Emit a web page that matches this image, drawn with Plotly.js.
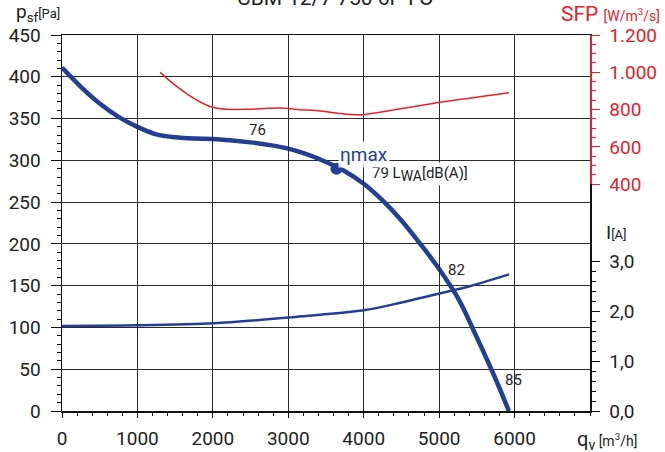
<!DOCTYPE html>
<html>
<head>
<meta charset="utf-8">
<script src="https://cdn.plot.ly/plotly-3.0.1.min.js"></script>
<style>html,body{margin:0;padding:0;background:#fff;}#chart{width:665px;height:452px;}</style>
</head>
<body>
<div id="chart"></div>
<script>
// Pressure curve p_sf [Pa] vs flow q_v [m3/h]
const flow = [0, 250, 500, 750, 1000, 1250, 1500, 1750, 2000, 2500, 3000, 3250, 3500, 3750, 4000, 4250, 4500, 4750, 5000, 5250, 5500, 5750, 5925];
const pressure = [411, 388, 368, 352, 340, 331, 327.5, 326, 325.5, 321.5, 314, 307, 298, 287, 272, 252, 228, 200, 170, 135, 88, 38, 0];
// SFP curve [W/m3/s]
const sfpFlow = [1301, 1478, 1656, 1833, 2010, 2187, 2453, 2718, 2895, 3161, 3426, 3692, 3957, 4489, 5020, 5927];
const sfpValues = [1000, 938, 885, 841, 811, 802, 802, 807, 809, 800, 793, 779, 773, 805, 840, 891];
// Current curve I [A]
const curFlow = [0, 992, 2009, 3028, 4001, 4489, 5020, 5330, 5927];
const curValues = [1.703, 1.717, 1.757, 1.877, 2.018, 2.17, 2.36, 2.47, 2.74];
// Max efficiency point
const etaFlow = [3639];
const etaPressure = [290];
// Tick labels
const xTicks = [0, 1000, 2000, 3000, 4000, 5000, 6000];
const xTickText = ['0', '1000', '2000', '3000', '4000', '5000', '6000'];
const yTicks = [0, 50, 100, 150, 200, 250, 300, 350, 400, 450];
const sfpTicks = [400, 600, 800, 1000, 1200];
const sfpTickText = ['400', '600', '800', '1.000', '1.200'];
const curTicks = [0, 1, 2, 3];
const curTickText = ['0,0', '1,0', '2,0', '3,0'];
// Sound power labels
const noiseLabels = ['76', '79 L<sub><span style="font-size:14px">WA</span></sub>[dB(A)]', '82', '85'];
const noiseFlow = [2590, 4077, 5232, 5990];
const noisePressure = [336, 284, 169, 37.6];

const BLUE = '#233f94';
const RED = '#e8202a';
const FONT = 'Roboto, "DejaVu Sans", sans-serif';

const W = 665, H = 452, L = 62, R = 75, T = 35, B = 41;
const pw = W - L - R, ph = H - T - B;
const px = x => (x - L) / pw;
const py = y => (H - B - y) / ph;

const traces = [
  {x: curFlow, y: curValues, xaxis: 'x', yaxis: 'y3', mode: 'lines', line: {color: BLUE, width: 2.5, shape: 'spline', smoothing: 0.8}, hoverinfo: 'skip'},
  {x: sfpFlow, y: sfpValues, xaxis: 'x', yaxis: 'y2', mode: 'lines', line: {color: RED, width: 1.5, shape: 'spline', smoothing: 0.8}, hoverinfo: 'skip'},
  {x: flow, y: pressure, xaxis: 'x', yaxis: 'y', mode: 'lines', line: {color: BLUE, width: 4.5, shape: 'spline', smoothing: 1}, hoverinfo: 'skip', cliponaxis: false},
  {x: etaFlow, y: etaPressure, xaxis: 'x', yaxis: 'y', mode: 'markers', marker: {color: BLUE, size: 12}, hoverinfo: 'skip'}
];

const annotations = [];
for (let i = 0; i < noiseLabels.length; i++) {
  annotations.push({x: noiseFlow[i], y: noisePressure[i], xref: 'x', yref: 'y', text: noiseLabels[i], showarrow: false,
    xanchor: i === 1 ? 'left' : 'center', yanchor: 'middle', font: {family: FONT, size: 15, color: '#222'}, bgcolor: i === 1 ? 'rgba(255,255,255,0.9)' : 'rgba(0,0,0,0)'});
}
annotations.push({x: 4000, y: 306.5, xref: 'x', yref: 'y', text: 'ηmax', showarrow: false, xanchor: 'center', yanchor: 'middle', font: {family: FONT, size: 19, color: BLUE}, bgcolor: 'rgba(255,255,255,0.9)'});
// Title (cut off at top)
annotations.push({x: px(335), y: py(-2), xref: 'paper', yref: 'paper', text: 'CBM-12/7 750 6P I O', showarrow: false, xanchor: 'center', yanchor: 'middle', font: {family: FONT, size: 21, color: '#222'}});
// Axis titles
annotations.push({x: px(14), y: py(13), xref: 'paper', yref: 'paper', text: 'p<sub>sf</sub><span style="font-size:13px">[Pa]</span>', showarrow: false, xanchor: 'left', yanchor: 'middle', font: {family: FONT, size: 19, color: '#222'}});
annotations.push({x: px(662), y: py(14), xref: 'paper', yref: 'paper', text: 'SFP <span style="font-size:14px">[W/m<sup>3</sup>/s]</span>', showarrow: false, xanchor: 'right', yanchor: 'middle', font: {family: FONT, size: 21, color: RED}});
annotations.push({x: px(604), y: py(232), xref: 'paper', yref: 'paper', text: 'I<span style="font-size:13px">[A]</span>', showarrow: false, xanchor: 'left', yanchor: 'middle', font: {family: FONT, size: 19, color: '#222'}});
annotations.push({x: px(575), y: py(440), xref: 'paper', yref: 'paper', text: 'q<sub>v</sub><span style="font-size:14px"> [m<sup>3</sup>/h]</span>', showarrow: false, xanchor: 'left', yanchor: 'middle', font: {family: FONT, size: 20, color: '#222'}});

const layout = {
  width: W, height: H,
  margin: {l: L, r: R, t: T, b: B, pad: 0},
  paper_bgcolor: '#fff', plot_bgcolor: 'rgba(0,0,0,0)',
  showlegend: false,
  font: {family: FONT, size: 19, color: '#222'},
  xaxis: {range: [0, 7000], tickmode: 'array', tickvals: xTicks, ticktext: xTickText, showgrid: true, gridcolor: '#2a2a2a', gridwidth: 1,
    zeroline: false, showline: true, linecolor: '#111', linewidth: 1.5, mirror: true, ticks: 'outside', ticklen: 5, tickcolor: '#111',
    ticklabelstandoff: 5, tickfont: {family: FONT, size: 19, color: '#222'},
    minor: {dtick: 200, tick0: 0, ticks: 'outside', ticklen: 3, tickcolor: '#111', showgrid: false}},
  yaxis: {range: [0, 450], tickmode: 'array', tickvals: yTicks, showgrid: true, gridcolor: '#2a2a2a', gridwidth: 1,
    zeroline: false, showline: true, linecolor: '#111', linewidth: 1.5, mirror: true, ticks: 'outside', ticklen: 10, tickcolor: '#111',
    ticklabelstandoff: 6, tickfont: {family: FONT, size: 19, color: '#222'},
    minor: {dtick: 10, tick0: 0, ticks: 'outside', ticklen: 4, tickcolor: '#111', showgrid: false}},
  yaxis2: {domain: [0.603, 1], anchor: 'x', side: 'right', range: [400, 1200], tickmode: 'array', tickvals: sfpTicks, ticktext: sfpTickText,
    showgrid: false, zeroline: false, showline: true, linecolor: RED, linewidth: 1.5, ticks: 'outside', ticklen: 8, tickcolor: RED,
    ticklabelstandoff: 6, tickfont: {family: FONT, size: 19, color: RED},
    minor: {dtick: 50, tick0: 0, ticks: 'outside', ticklen: 4, tickcolor: RED, showgrid: false}},
  yaxis3: {domain: [0, 0.398], anchor: 'x', side: 'right', range: [0, 3], tickmode: 'array', tickvals: curTicks, ticktext: curTickText,
    showgrid: false, zeroline: false, showline: true, linecolor: '#111', linewidth: 1.5, ticks: 'outside', ticklen: 8, tickcolor: '#111',
    ticklabelstandoff: 6, tickfont: {family: FONT, size: 19, color: '#222'},
    minor: {dtick: 0.2, tick0: 0, ticks: 'outside', ticklen: 4, tickcolor: '#111', showgrid: false}},
  annotations: annotations
};

Plotly.newPlot('chart', traces, layout, {staticPlot: true, displayModeBar: false});
</script>
</body>
</html>
